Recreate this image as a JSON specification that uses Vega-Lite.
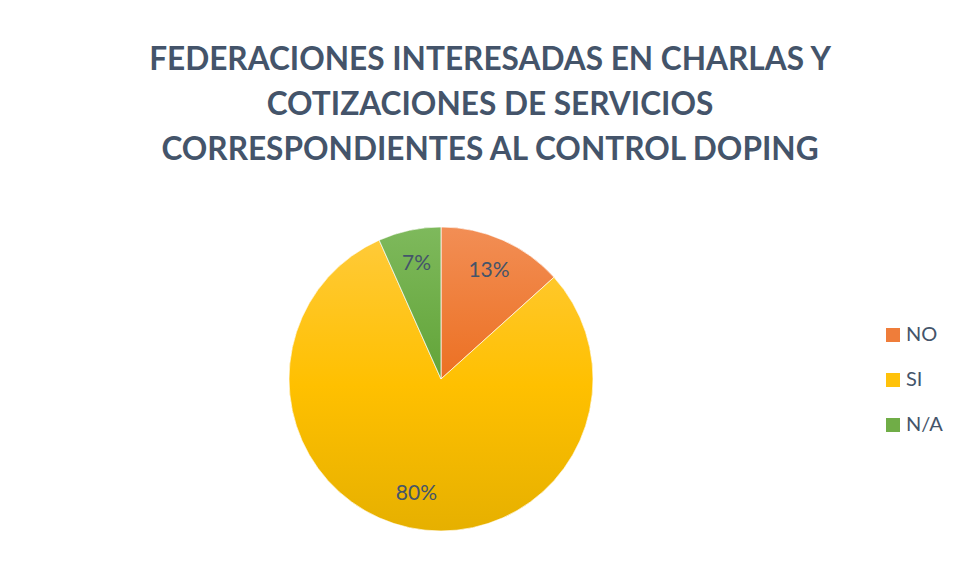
{
  "$schema": "https://vega.github.io/schema/vega-lite/v6.json",
  "autosize": "none",
  "width": 320,
  "height": 320,
  "padding": {"left": 281, "top": 219, "right": 357, "bottom": 43},
  "background": "white",
  "title": {
    "text": ["FEDERACIONES INTERESADAS EN CHARLAS Y", "COTIZACIONES DE SERVICIOS", "CORRESPONDIENTES AL CONTROL DOPING"],
    "anchor": "middle",
    "frame": "group",
    "dx": 49,
    "offset": 52,
    "font": "Lato",
    "fontSize": 31.6,
    "fontWeight": "bold",
    "color": "#44546A",
    "lineHeight": 45
  },
  "data": {
    "values": [
      {"cat": "NO", "count": 2, "idx": 1, "label": "13%"},
      {"cat": "SI", "count": 12, "idx": 2, "label": "80%"},
      {"cat": "N/A", "count": 1, "idx": 3, "label": "7%"}
    ]
  },
  "encoding": {
    "theta": {"field": "count", "type": "quantitative", "stack": true},
    "order": {"field": "idx", "type": "quantitative"}
  },
  "layer": [
    {
      "mark": {"type": "arc", "radius": 152},
      "encoding": {
        "color": {
          "field": "cat",
          "type": "nominal",
          "sort": ["NO", "SI", "N/A"],
          "scale": {
            "domain": ["NO", "SI", "N/A"],
            "range": ["#EF7D3A", "#FFC20A", "#70AD47"]
          },
          "legend": {
            "title": null,
            "orient": "none",
            "legendX": 602,
            "legendY": 106,
            "symbolType": "square",
            "symbolSize": 196,
            "symbolStrokeWidth": 0,
            "symbolOpacity": 1,
            "labelFont": "Lato",
            "labelFontSize": 20,
            "labelColor": "#44546A",
            "labelOffset": 3,
            "rowPadding": 25
          }
        }
      }
    },
    {
      "mark": {"type": "arc", "radius": 152, "stroke": "#ffffff", "strokeWidth": 1, "strokeOpacity": 0.7},
      "encoding": {
        "color": {
          "condition": [
            {"test": "datum.cat === 'NO'", "value": {"gradient": "linear", "x1": 0, "y1": 0, "x2": 0, "y2": 1, "stops": [{"offset": 0, "color": "#F28E55"}, {"offset": 1, "color": "#EC7022"}]}},
            {"test": "datum.cat === 'SI'", "value": {"gradient": "linear", "x1": 0, "y1": 0, "x2": 0, "y2": 1, "stops": [{"offset": 0, "color": "#FFCA38"}, {"offset": 0.5, "color": "#FFC000"}, {"offset": 1, "color": "#E6B000"}]}}
          ],
          "value": {"gradient": "linear", "x1": 0, "y1": 0, "x2": 0, "y2": 1, "stops": [{"offset": 0, "color": "#7EB95C"}, {"offset": 1, "color": "#62A438"}]}
        }
      }
    },
    {
      "mark": {"type": "text", "radius": 118, "font": "Lato", "fontSize": 21, "fill": "#44546A"},
      "encoding": {
        "text": {"field": "label", "type": "nominal"}
      }
    }
  ]
}
